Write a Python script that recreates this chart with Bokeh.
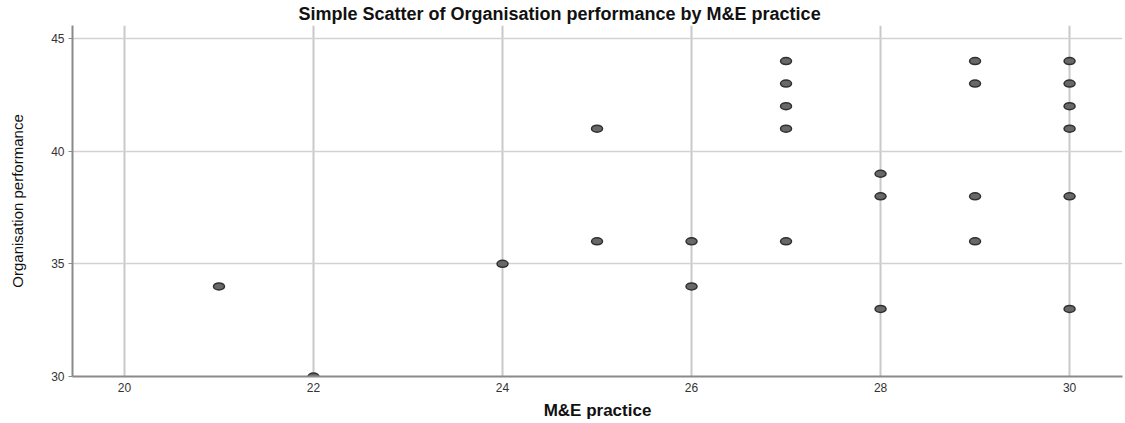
from bokeh.plotting import figure
from bokeh.models import Range1d, FixedTicker
from bokeh.embed import file_html
from bokeh.resources import INLINE

# Data
me_practice = [21, 22, 24, 25, 25, 26, 26, 27, 27, 27, 27, 27,
               28, 28, 28, 29, 29, 29, 29, 30, 30, 30, 30, 30, 30]
org_performance = [34, 30, 35, 41, 36, 36, 34, 44, 43, 42, 41, 36,
                   39, 38, 33, 44, 43, 38, 36, 44, 43, 42, 41, 38, 33]
x_ticks = [20, 22, 24, 26, 28, 30]
y_ticks = [30, 35, 40, 45]

title_text = "Simple Scatter of Organisation performance by M&E practice"
x_label = "M&E practice"
y_label = "Organisation performance"

FONT = "Liberation Sans"

p = figure(width=1125, height=423, output_backend="svg", toolbar_location=None,
           x_range=Range1d(19.45, 30.56), y_range=Range1d(30, 45.58),
           min_border_left=72, min_border_right=3, min_border_top=25,
           min_border_bottom=47)
p.outline_line_color = None
p.background_fill_color = "white"
p.border_fill_color = "white"

# Title
p.title.text = title_text
p.title.text_font = FONT
p.title.text_font_size = "18px"
p.title.text_font_style = "bold"
p.title.text_color = "#111111"
p.title.align = "left"
p.title.offset = 226
p.title.standoff = 2
p.title.vertical_align = "middle"

# Grid
p.xgrid.ticker = FixedTicker(ticks=x_ticks)
p.ygrid.ticker = FixedTicker(ticks=y_ticks)
p.xgrid.grid_line_color = "#c9c9c9"
p.xgrid.grid_line_width = 2
p.ygrid.grid_line_color = "#d2d2d2"
p.ygrid.grid_line_width = 1.5

# Axes
p.xaxis.ticker = FixedTicker(ticks=x_ticks)
p.yaxis.ticker = FixedTicker(ticks=y_ticks)
for ax in (p.xaxis[0], p.yaxis[0]):
    ax.axis_line_color = "#8a8a8a"
    ax.axis_line_width = 2
    ax.minor_tick_line_color = None
    ax.major_label_text_font = FONT
    ax.major_label_text_font_size = "12px"
    ax.major_label_text_color = "#333333"
    ax.axis_label_text_font = FONT
    ax.axis_label_text_color = "#111111"
    ax.axis_label_text_font_style = "normal"

p.xaxis.major_tick_line_color = None
p.xaxis.major_tick_out = 0
p.xaxis.major_tick_in = 0
p.xaxis.major_label_standoff = 6
p.xaxis.axis_label = x_label
p.xaxis.axis_label_text_font_size = "17px"
p.xaxis.axis_label_text_font_style = "bold"
p.xaxis.axis_label_standoff = 6

p.yaxis.major_tick_line_color = "#8a8a8a"
p.yaxis.major_tick_out = 4
p.yaxis.major_tick_in = 0
p.yaxis.major_label_standoff = 4
p.yaxis.axis_label = y_label
p.yaxis.axis_label_text_font_size = "15px"
p.yaxis.axis_label_standoff = 22

# Points
p.ellipse(x=me_practice, y=org_performance, width=11, height=7,
          width_units="screen", height_units="screen",
          fill_color="#686868", line_color="#303030", line_width=1.5)

open("out.html", "w").write(file_html(p, INLINE))
